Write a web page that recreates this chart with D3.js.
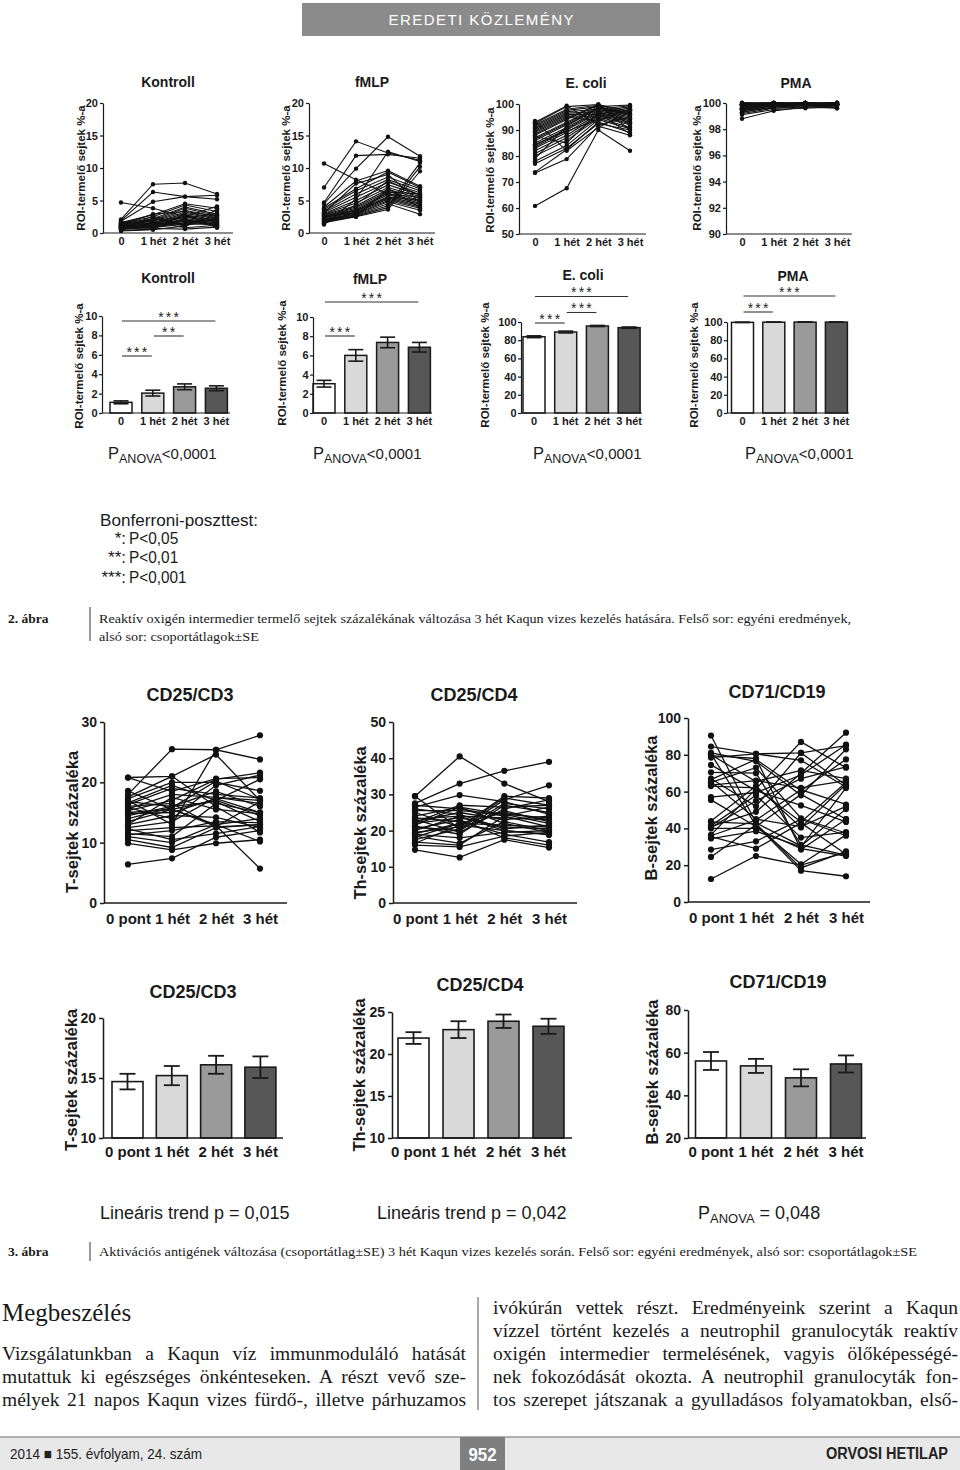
<!DOCTYPE html>
<html><head><meta charset="utf-8">
<script src="https://cdn.jsdelivr.net/npm/d3@7"></script>
<style>body{margin:0;background:#fff}svg{display:block}</style>
</head><body><script>
// ---------------- DATA ----------------
const weeks = ["0", "1 hét", "2 hét", "3 hét"];
const weeksPont = ["0 pont", "1 hét", "2 hét", "3 hét"];

// 2. ábra – individual values (each inner array = one time point, index = subject)
const kontrollInd = [
  [4.7,2.1,1.9,1.8,1.6,1.5,1.4,1.3,1.2,1.2,1.1,1.0,1.0,0.9,0.9,0.8,0.8,0.7,0.7,0.6,0.6,0.5,0.5,0.4,1.3,1.5,1.1,0.9,0.3,1.7],
  [3.8,7.5,6.3,4.8,2.8,2.5,2.2,2.0,1.9,1.8,1.6,1.5,1.4,1.3,1.2,1.1,1.0,0.9,0.8,2.6,2.3,1.7,1.0,0.6,2.9,1.5,1.2,0.7,0.5,2.0],
  [2.5,7.7,5.6,5.6,4.5,4.3,4.0,3.8,3.5,3.2,3.0,2.8,2.6,2.4,2.2,2.0,1.8,1.6,1.4,1.2,1.0,0.8,2.1,2.9,3.3,1.5,1.9,0.6,1.1,2.3],
  [4.1,6.0,5.2,5.8,3.8,3.3,2.9,2.7,2.5,2.3,2.2,2.0,1.9,1.8,1.7,1.6,1.5,1.4,1.3,2.8,3.6,1.2,1.0,0.8,2.6,2.1,1.1,0.9,2.4,3.0]
];
const fmlpInd = [
  [10.7,7.0,4.7,4.5,4.0,3.8,3.6,3.4,3.2,3.0,2.9,2.8,2.7,2.6,2.5,2.4,2.3,2.2,2.1,2.0,1.9,1.8,1.7,1.6,1.5,1.4,1.3,3.1,2.6,2.0],
  [8.2,14.1,11.9,9.9,8.0,6.8,6.5,6.0,5.5,5.0,4.6,4.2,4.0,3.8,3.6,3.5,3.4,3.2,3.0,2.9,2.8,2.7,2.6,2.5,3.3,4.4,5.2,7.6,3.1,2.5],
  [6.0,12.3,12.1,14.8,9.6,9.4,8.6,8.2,7.8,7.4,7.0,6.7,6.4,6.1,5.9,5.6,5.4,5.2,5.0,4.8,4.5,4.2,3.9,3.6,6.3,8.0,12.5,9.0,5.5,6.8],
  [5.5,11.2,11.5,11.8,7.2,7.0,6.8,6.5,6.2,5.9,5.6,5.3,5.0,4.8,4.6,4.4,4.2,4.0,3.8,3.5,2.9,10.8,10.2,9.5,6.0,5.8,11.0,4.7,5.1,3.9]
];
const ecoliInd = [
  [60.8,73.5,73.8,77,78,80,81,82,83,83.5,84,85,86,86.5,87,88,88.5,89,89.5,90,90.5,91,91.5,92,92.5,93,93.5,84.5,87.5,79],
  [67.6,78.8,82.5,83,84,86,87,88,89,90,90.5,91,92,92.5,93,94,94.5,95,95.5,96,96.5,97,97.5,98,99,99.3,82,89.5,85,91.5],
  [90,91.5,93,92.5,94,94.5,95,95.5,96,96.5,97,97.5,98,98.5,99,99.5,99.8,93.5,95,96,97,98,99,99.5,99.8,92,91,94,96.5,98.5],
  [82,88,89,90,90.5,91,92,92.5,93,93.5,94,94.5,95,95.5,96,96.5,97,97.5,98,98.5,99,99.3,99.6,90,92,95,97,98,88.5,96]
];
const pmaInd = [
  [98.8,99.1,99.2,99.3,99.4,99.5,99.5,99.6,99.6,99.7,99.7,99.8,99.8,99.8,99.9,99.9,99.9,100,100,100,99.3,99.6,99.7,99.9,100,99.5,99.8,99.9,100,99.4],
  [99.4,99.5,99.6,99.7,99.8,99.8,99.9,99.9,99.9,100,100,100,99.8,99.9,100,99.9,100,100,99.9,100,99.7,99.8,99.9,100,99.9,99.6,100,99.9,100,99.8],
  [99.7,99.6,99.8,99.9,99.9,99.9,100,100,99.9,100,99.9,100,99.9,100,99.8,100,99.9,100,100,99.9,99.8,99.9,100,99.9,100,99.7,99.9,100,100,99.9],
  [99.6,99.7,99.8,99.9,99.8,100,99.9,100,100,99.9,100,99.9,100,99.9,99.9,100,100,99.8,100,99.9,99.7,99.9,100,100,99.9,99.8,100,99.9,99.6,100]
];

// 2. ábra – group means ± SE
const kontrollMean = [1.1, 2.05, 2.7, 2.55];  const kontrollSE = [0.15, 0.3, 0.3, 0.25];
const fmlpMean = [3.05, 6.0, 7.35, 6.85];      const fmlpSE = [0.35, 0.6, 0.55, 0.5];
const ecoliMean = [83.8, 89.0, 95.6, 93.8];     const ecoliSE = [1.0, 1.0, 0.6, 0.7];
const pmaMean = [99.6, 99.8, 99.9, 99.9];       const pmaSE = [0.1, 0.05, 0.05, 0.05];

// Bonferroni significance brackets [from, to, label]
const kontrollSig = [[0,1,"***"],[1,2,"**"],[0,3,"***"]];
const fmlpSig = [[0,1,"***"],[0,3,"***"]];
const ecoliSig = [[0,1,"***"],[1,2,"***"],[0,3,"***"]];
const pmaSig = [[0,1,"***"],[0,3,"***"]];

// 3. ábra – individual values
const cd3Ind = [
  [6.4,9.9,10.5,11.0,11.5,12.0,12.5,13.0,13.5,14.0,14.5,15.0,15.3,15.6,16.0,16.3,16.6,17.0,17.3,17.6,18.0,18.6,20.8,20.8,12.3,14.8,15.8,11.3,13.0,16.8],
  [7.4,8.8,9.2,10.0,11.0,12.5,13.5,14.5,15.5,15.8,16.0,15.5,17.0,18.0,16.5,19.0,19.5,13.0,20.0,21.0,25.5,15.5,18.5,21.0,10.5,15.0,14.0,12.0,17.5,16.0],
  [10.9,9.9,12.5,13.0,16.5,12.8,17.5,14.2,17.0,20.2,16.8,13.0,20.5,17.5,12.6,18.0,17.0,25.4,20.0,16.0,25.4,12.7,20.6,24.6,11.5,17.3,19.5,13.5,15.5,18.5],
  [12.0,10.5,13.0,14.0,15.0,5.7,17.0,12.5,20.5,17.2,13.5,10.2,21.6,16.5,13.0,17.4,14.5,23.8,18.6,11.7,27.8,16.8,20.8,17.0,12.7,15.0,21.2,13.3,14.8,16.0]
];
const cd4Ind = [
  [14.7,16.0,16.8,17.5,18.2,19.0,19.5,20.0,21.0,21.5,22.0,22.5,23.0,23.5,24.0,25.0,26.0,26.5,27.0,27.5,29.5,29.5,18.5,20.5,22.2,16.5,25.5,19.2,21.2,23.2],
  [12.6,15.5,16.0,20.5,22.0,18.0,21.0,24.0,20.0,26.5,23.5,25.0,19.5,22.5,26.5,21.0,24.5,29.8,26.0,33.0,40.5,20.5,16.5,23.0,27.0,21.5,25.5,22.0,19.0,24.0],
  [17.5,18.5,24.0,28.5,25.0,19.5,29.0,20.0,27.5,24.5,21.0,23.0,26.0,19.0,22.0,29.5,20.5,28.0,24.0,36.5,33.0,25.5,22.5,18.0,26.5,20.0,24.5,21.5,27.0,23.5],
  [15.3,19.5,21.0,32.5,23.0,20.0,27.0,18.8,26.0,22.0,20.5,24.0,28.5,16.8,19.5,29.0,21.5,24.5,26.5,39.0,28.0,22.5,20.0,16.0,27.0,19.0,23.5,21.0,25.0,23.0]
];
const cd19Ind = [
  [12.5,24.5,28.5,34.5,35.5,36.0,36.5,40.0,41.0,41.5,43.5,44.0,55.5,57.0,63.5,65.0,65.5,66.5,67.0,70.5,74.5,78.5,79.5,80.0,80.5,81.0,84.5,90.5,63.0,40.5],
  [25.0,42.0,33.0,38.5,29.0,44.5,61.5,40.0,49.0,58.0,42.5,63.0,41.0,59.5,66.0,73.0,45.0,77.5,52.0,70.0,60.5,80.5,78.0,65.5,41.5,76.5,80.5,43.0,62.0,55.0],
  [20.0,17.0,45.0,30.0,43.0,61.0,87.0,29.0,70.0,35.0,18.5,40.5,58.5,69.0,62.0,45.5,41.0,60.5,81.0,31.0,52.5,77.0,28.5,71.5,20.5,58.0,81.0,30.5,43.5,67.0],
  [27.0,14.0,36.0,62.0,26.0,53.0,73.0,25.0,92.0,38.0,27.5,64.0,45.0,85.5,66.0,37.5,52.0,77.5,63.5,25.5,43.5,62.5,45.0,67.0,36.5,83.0,85.0,50.5,65.0,73.5]
];

// 3. ábra – group means ± SE
const cd3Mean = [14.7, 15.2, 16.1, 15.9];   const cd3SE = [0.65, 0.8, 0.75, 0.9];
const cd4Mean = [21.9, 22.9, 23.9, 23.3];   const cd4SE = [0.7, 1.0, 0.8, 0.9];
const cd19Mean = [56.1, 53.8, 48.2, 54.7];  const cd19SE = [4.2, 3.3, 4.0, 4.0];

// ---------------- STYLE ----------------
const SANS = "'Liberation Sans', Arial, Helvetica, sans-serif";
const SERIF = "'Liberation Serif', 'Times New Roman', serif";
const INK = "#1a1a1a";
const barFills = ["#ffffff", "#d9d9d9", "#9a9a9a", "#575757"];

const svg = d3.select("body").append("svg").attr("width", 960).attr("height", 1470);

function styleAxis(ax, o, fs) {
  ax.select(".domain").attr("stroke", INK).attr("stroke-width", o.aw);
  ax.selectAll(".tick line").attr("stroke", INK).attr("stroke-width", o.aw);
  ax.selectAll("text").attr("font-family", SANS).attr("font-size", fs)
    .attr("font-weight", "bold").attr("fill", INK);
}

function yLabel(g, o) {
  g.append("text").attr("transform", `translate(${o.lx},${o.ly}) rotate(-90)`)
    .attr("text-anchor", "middle").attr("font-family", SANS).attr("font-size", o.lfs)
    .attr("font-weight", "bold").attr("fill", INK).text(o.label);
}
function title(g, o) {
  g.append("text").attr("x", o.tx).attr("y", o.ty).attr("text-anchor", "middle")
    .attr("font-family", SANS).attr("font-size", o.tfs).attr("font-weight", "bold")
    .attr("fill", INK).text(o.title);
}

function indPanel(o) {
  const g = svg.append("g");
  const x = d3.scalePoint().domain(o.cats).range(o.xr);
  const y = d3.scaleLinear().domain(o.dom).range([o.yb, o.yt]);
  const ax = g.append("g").attr("transform", `translate(${o.ax},0)`)
    .call(d3.axisLeft(y).tickValues(o.ticks).tickSize(o.tk).tickSizeOuter(0).tickPadding(o.tp).tickFormat(d3.format("d")));
  styleAxis(ax, o, o.yfs);
  const xa = g.append("g").attr("transform", `translate(0,${o.yb})`)
    .call(d3.axisBottom(x).tickSize(0).tickPadding(o.xp));
  xa.select(".domain").remove();
  styleAxis(xa, o, o.xfs);
  g.append("line").attr("x1", o.ax).attr("x2", o.xEnd).attr("y1", o.yb).attr("y2", o.yb)
    .attr("stroke", INK).attr("stroke-width", o.aw);
  const n = o.data[0].length;
  const subjects = d3.range(n).map(i => o.cats.map((c, j) => ({c, v: o.data[j][i]})));
  const line = d3.line().x(d => x(d.c)).y(d => y(d.v));
  g.selectAll("path.subj").data(subjects).join("path").attr("class", "subj")
    .attr("d", line).attr("fill", "none").attr("stroke", "#111").attr("stroke-width", o.lw);
  g.selectAll("circle").data(subjects.flat()).join("circle")
    .attr("cx", d => x(d.c)).attr("cy", d => y(d.v)).attr("r", o.r).attr("fill", "#111");
  yLabel(g, o); title(g, o);
}

function barPanel(o) {
  const g = svg.append("g");
  const n = o.cats.length, p = 1 - o.w / o.step;
  const x = d3.scaleBand().domain(o.cats)
    .range([o.c0 - o.step / 2, o.c0 - o.step / 2 + n * o.step]).paddingInner(p).paddingOuter(p / 2);
  const y = d3.scaleLinear().domain(o.dom).range([o.yb, o.yt]);
  const rows = o.cats.map((c, i) => ({c, m: o.mean[i], se: o.se[i], i}));
  g.selectAll("rect").data(rows).join("rect")
    .attr("x", d => x(d.c)).attr("width", x.bandwidth())
    .attr("y", d => y(d.m)).attr("height", d => o.yb - y(d.m))
    .attr("fill", d => barFills[d.i]).attr("stroke", INK).attr("stroke-width", o.bw);
  const cx = d => x(d.c) + x.bandwidth() / 2;
  const eb = g.append("g").attr("stroke", INK).attr("stroke-width", o.ew);
  eb.selectAll("line.v").data(rows).join("line").attr("class", "v")
    .attr("x1", cx).attr("x2", cx).attr("y1", d => y(d.m - d.se)).attr("y2", d => y(d.m + d.se));
  eb.selectAll("line.t").data(rows).join("line").attr("class", "t")
    .attr("x1", d => cx(d) - o.cap / 2).attr("x2", d => cx(d) + o.cap / 2)
    .attr("y1", d => y(d.m + d.se)).attr("y2", d => y(d.m + d.se));
  eb.selectAll("line.b").data(rows).join("line").attr("class", "b")
    .attr("x1", d => cx(d) - o.cap / 2).attr("x2", d => cx(d) + o.cap / 2)
    .attr("y1", d => y(d.m - d.se)).attr("y2", d => y(d.m - d.se));
  const ax = g.append("g").attr("transform", `translate(${o.ax},0)`)
    .call(d3.axisLeft(y).tickValues(o.ticks).tickSize(o.tk).tickSizeOuter(0).tickPadding(o.tp).tickFormat(d3.format("d")));
  styleAxis(ax, o, o.yfs);
  const xa = g.append("g").attr("transform", `translate(0,${o.yb})`)
    .call(d3.axisBottom(x).tickSize(0).tickPadding(o.xp));
  xa.select(".domain").remove();
  styleAxis(xa, o, o.xfs);
  g.append("line").attr("x1", o.ax).attr("x2", o.xEnd).attr("y1", o.yb).attr("y2", o.yb)
    .attr("stroke", INK).attr("stroke-width", o.aw);
  if (o.sig) {
    o.sig.forEach((s, k) => {
      const x1 = x(o.cats[s[0]]) + x.bandwidth() / 2 + 1, x2 = x(o.cats[s[1]]) + x.bandwidth() / 2 - 1;
      const ly = o.sigY[k];
      g.append("line").attr("x1", x1).attr("x2", x2).attr("y1", ly).attr("y2", ly)
        .attr("stroke", "#333").attr("stroke-width", 1.1);
      g.append("text").attr("x", (x1 + x2) / 2 + 1).attr("y", ly + 0.8).attr("text-anchor", "middle")
        .attr("font-family", SANS).attr("font-size", 14).attr("letter-spacing", 2.2)
        .attr("fill", "#222").text(s[2]);
    });
  }
  yLabel(g, o); title(g, o);
}

function panova(x, y, rest, s1, s2, s3) {
  const t = svg.append("text").attr("x", x).attr("y", y).attr("font-family", SANS).attr("fill", INK);
  t.append("tspan").attr("font-size", s1).text("P");
  t.append("tspan").attr("font-size", s2).attr("dy", 4).text("ANOVA");
  t.append("tspan").attr("font-size", s3).attr("dy", -4).text(rest);
}

// ---------------- HEADER ----------------
svg.append("rect").attr("x", 302).attr("y", 3).attr("width", 358).attr("height", 33).attr("fill", "#8b8b8b");
svg.append("text").attr("x", 481).attr("y", 25).attr("text-anchor", "middle").attr("fill", "#fff")
  .attr("font-family", SANS).attr("font-size", 15).attr("textLength", 185).attr("lengthAdjust", "spacing")
  .text("EREDETI KÖZLEMÉNY");

// ---------------- FIG 2 – TOP ROW ----------------
const roiLabel = "ROI-termelő sejtek %-a";
const topCommon = {cats: weeks, tk: 3, tp: 2, xp: 4.5, aw: 1.2, yfs: 11, xfs: 11, lw: 1.1, r: 2.2, lfs: 11.5, tfs: 14, label: roiLabel};
indPanel({...topCommon, data: kontrollInd, ax: 103, xr: [121, 217], xEnd: 233, yb: 233, yt: 103, dom: [0, 20], ticks: [0,5,10,15,20], title: "Kontroll", tx: 168, ty: 87, lx: 85, ly: 168});
indPanel({...topCommon, data: fmlpInd, ax: 309, xr: [324, 420], xEnd: 435, yb: 233, yt: 103, dom: [0, 20], ticks: [0,5,10,15,20], title: "fMLP", tx: 372, ty: 87, lx: 290, ly: 168});
indPanel({...topCommon, data: ecoliInd, ax: 519, xr: [535, 630], xEnd: 646, yb: 234, yt: 104, dom: [50, 100], ticks: [50,60,70,80,90,100], title: "E. coli", tx: 586, ty: 88, lx: 494, ly: 170});
indPanel({...topCommon, data: pmaInd, ax: 726, xr: [742, 837], xEnd: 852, yb: 234, yt: 103, dom: [90, 100], ticks: [90,92,94,96,98,100], title: "PMA", tx: 796, ty: 88, lx: 701, ly: 168});

// ---------------- FIG 2 – BAR ROW ----------------
const barCommon = {cats: weeks, tk: 3, tp: 1.5, xp: 4.5, aw: 1.2, yfs: 11, xfs: 11, lfs: 11.5, tfs: 14, w: 22, bw: 1.5, ew: 1.6, cap: 15, yb: 413, label: roiLabel};
barPanel({...barCommon, mean: kontrollMean, se: kontrollSE, ax: 102, c0: 121, step: 31.8, xEnd: 230, yt: 316, dom: [0, 10], ticks: [0,2,4,6,8,10], title: "Kontroll", tx: 168, ty: 283, lx: 83, ly: 366, sig: kontrollSig, sigY: [356, 336, 321]});
barPanel({...barCommon, mean: fmlpMean, se: fmlpSE, ax: 313, c0: 324, step: 31.8, xEnd: 432, yt: 317, dom: [0, 10], ticks: [0,2,4,6,8,10], title: "fMLP", tx: 370, ty: 284, lx: 286, ly: 363, sig: fmlpSig, sigY: [336, 302]});
barPanel({...barCommon, mean: ecoliMean, se: ecoliSE, ax: 521, c0: 534, step: 31.7, xEnd: 642, yt: 322, dom: [0, 100], ticks: [0,20,40,60,80,100], title: "E. coli", tx: 583, ty: 280, lx: 489, ly: 365, sig: ecoliSig, sigY: [323, 312.5, 296.5]});
barPanel({...barCommon, mean: pmaMean, se: pmaSE, ax: 727, c0: 742.5, step: 31.3, xEnd: 849, yt: 322, dom: [0, 100], ticks: [0,20,40,60,80,100], title: "PMA", tx: 793, ty: 281, lx: 698, ly: 365, sig: pmaSig, sigY: [312, 296]});

panova(108, 459, "<0,0001", 16.5, 12.5, 15);
panova(313, 459, "<0,0001", 16.5, 12.5, 15);
panova(533, 459, "<0,0001", 16.5, 12.5, 15);
panova(745, 459, "<0,0001", 16.5, 12.5, 15);

// Bonferroni legend
const bonf = svg.append("g").attr("font-family", SANS).attr("font-size", 17).attr("fill", INK);
bonf.append("text").attr("x", 100).attr("y", 526).attr("textLength", 158).attr("lengthAdjust", "spacingAndGlyphs").text("Bonferroni-poszttest:");
[["*:", "P<0,05", 544], ["**:", "P<0,01", 563], ["***:", "P<0,001", 583]].forEach(r => {
  bonf.append("text").attr("x", 126).attr("y", r[2]).attr("text-anchor", "end").text(r[0]);
  bonf.append("text").attr("x", 129).attr("y", r[2]).attr("textLength", r[1].length * 8.2).attr("lengthAdjust", "spacingAndGlyphs").text(r[1]);
});

// Caption 2
const cap = svg.append("g").attr("font-family", SERIF).attr("fill", INK);
cap.append("text").attr("x", 8).attr("y", 623).attr("font-size", 13.5).attr("font-weight", "bold").text("2. ábra");
cap.append("line").attr("x1", 90).attr("x2", 90).attr("y1", 607).attr("y2", 641).attr("stroke", "#333").attr("stroke-width", 1);
cap.append("text").attr("x", 99).attr("y", 623).attr("font-size", 13.5).attr("textLength", 752).attr("lengthAdjust", "spacingAndGlyphs")
  .text("Reaktív oxigén intermedier termelő sejtek százalékának változása 3 hét Kaqun vizes kezelés hatására. Felső sor: egyéni eredmények,");
cap.append("text").attr("x", 99).attr("y", 641).attr("font-size", 13.5).attr("textLength", 160).attr("lengthAdjust", "spacingAndGlyphs")
  .text("alsó sor: csoportátlagok±SE");

// ---------------- FIG 3 – INDIVIDUAL ----------------
const f3Common = {cats: weeksPont, tk: 4, tp: 3, xp: 10, aw: 1.5, yfs: 14, xfs: 15, lw: 1.3, r: 3.1, lfs: 16.5, tfs: 18};
indPanel({...f3Common, data: cd3Ind, ax: 104, xr: [128, 260], xEnd: 287, yb: 903, yt: 722, dom: [0, 30], ticks: [0,10,20,30], title: "CD25/CD3", tx: 190, ty: 701, lx: 78, ly: 822, label: "T-sejtek százaléka"});
indPanel({...f3Common, data: cd4Ind, ax: 393, xr: [415, 549], xEnd: 577, yb: 903, yt: 722, dom: [0, 50], ticks: [0,10,20,30,40,50], title: "CD25/CD4", tx: 474, ty: 701, lx: 366, ly: 823, label: "Th-sejtek százaléka"});
indPanel({...f3Common, data: cd19Ind, ax: 688, xr: [711, 846], xEnd: 870, yb: 902, yt: 718, dom: [0, 100], ticks: [0,20,40,60,80,100], title: "CD71/CD19", tx: 777, ty: 698, lx: 657, ly: 808, label: "B-sejtek százaléka"});

// ---------------- FIG 3 – BARS ----------------
const f3Bar = {cats: weeksPont, tk: 4, tp: 3, xp: 8, aw: 1.5, yfs: 14, xfs: 15, lfs: 16.5, tfs: 18, w: 31, bw: 1.6, ew: 1.8, cap: 16, yb: 1138};
barPanel({...f3Bar, mean: cd3Mean, se: cd3SE, ax: 103, c0: 127.5, step: 44.3, xEnd: 283, yt: 1018, dom: [10, 20], ticks: [10,15,20], title: "CD25/CD3", tx: 193, ty: 998, lx: 77, ly: 1080, label: "T-sejtek százaléka"});
barPanel({...f3Bar, mean: cd4Mean, se: cd4SE, ax: 392, c0: 413.5, step: 45, xEnd: 572, yt: 1012, dom: [10, 25], ticks: [10,15,20,25], title: "CD25/CD4", tx: 480, ty: 991, lx: 365, ly: 1075, label: "Th-sejtek százaléka"});
barPanel({...f3Bar, mean: cd19Mean, se: cd19SE, ax: 688, c0: 711, step: 45, xEnd: 866, yt: 1010, dom: [20, 80], ticks: [20,40,60,80], title: "CD71/CD19", tx: 778, ty: 988, lx: 658, ly: 1072, label: "B-sejtek százaléka"});

svg.append("text").attr("x", 100).attr("y", 1219).attr("font-family", SANS).attr("font-size", 18).attr("fill", INK).text("Lineáris trend p = 0,015");
svg.append("text").attr("x", 377).attr("y", 1219).attr("font-family", SANS).attr("font-size", 18).attr("fill", INK).text("Lineáris trend p = 0,042");
panova(698, 1219, " = 0,048", 18, 13, 18);

// Caption 3
cap.append("text").attr("x", 8).attr("y", 1256).attr("font-size", 13.5).attr("font-weight", "bold").text("3. ábra");
cap.append("line").attr("x1", 90).attr("x2", 90).attr("y1", 1242).attr("y2", 1261).attr("stroke", "#333").attr("stroke-width", 1);
cap.append("text").attr("x", 99).attr("y", 1256).attr("font-size", 13.5).attr("textLength", 818).attr("lengthAdjust", "spacingAndGlyphs")
  .text("Aktivációs antigének változása (csoportátlag±SE) 3 hét Kaqun vizes kezelés során. Felső sor: egyéni eredmények, alsó sor: csoportátlagok±SE");

// ---------------- BODY TEXT ----------------
const leftLines = [
  "Vizsgálatunkban a Kaqun víz immunmoduláló hatását",
  "mutattuk ki egészséges önkénteseken. A részt vevő sze-",
  "mélyek 21 napos Kaqun vizes fürdő-, illetve párhuzamos"
];
const rightLines = [
  "ivókúrán vettek részt. Eredményeink szerint a Kaqun",
  "vízzel történt kezelés a neutrophil granulocyták reaktív",
  "oxigén intermedier termelésének, vagyis ölőképességé-",
  "nek fokozódását okozta. A neutrophil granulocyták fon-",
  "tos szerepet játszanak a gyulladásos folyamatokban, első-"
];
function justified(lines, x0, x1, y0, lh) {
  lines.forEach((s, i) => {
    const t = svg.append("text").attr("x", x0).attr("y", y0 + i * lh).attr("font-family", SERIF)
      .attr("font-size", 19.5).attr("fill", INK).text(s);
    const w = t.node().getComputedTextLength();
    const spaces = s.split(" ").length - 1;
    if (spaces > 0) t.style("word-spacing", ((x1 - x0 - w) / spaces) + "px");
  });
}
svg.append("text").attr("x", 2).attr("y", 1321).attr("font-family", SERIF).attr("font-size", 25).attr("fill", INK).text("Megbeszélés");
justified(leftLines, 2, 466, 1360, 23);
justified(rightLines, 493, 958, 1314, 23);
svg.append("line").attr("x1", 478).attr("x2", 478).attr("y1", 1297).attr("y2", 1410).attr("stroke", "#555").attr("stroke-width", 1);

// ---------------- FOOTER ----------------
svg.append("rect").attr("x", 0).attr("y", 1437).attr("width", 960).attr("height", 33).attr("fill", "#e8e8e8");
svg.append("line").attr("x1", 0).attr("x2", 960).attr("y1", 1437).attr("y2", 1437).attr("stroke", "#9a9a9a").attr("stroke-width", 1.5);
svg.append("rect").attr("x", 460).attr("y", 1437).attr("width", 45).attr("height", 33).attr("fill", "#7f7f7f");
svg.append("text").attr("x", 482.5).attr("y", 1461).attr("text-anchor", "middle").attr("fill", "#fff")
  .attr("font-family", SANS).attr("font-weight", "bold").attr("font-size", 19).attr("textLength", 28).attr("lengthAdjust", "spacingAndGlyphs").text("952");
svg.append("text").attr("x", 10).attr("y", 1459).attr("font-family", SANS).attr("font-size", 15).attr("fill", "#222")
  .attr("textLength", 192).attr("lengthAdjust", "spacingAndGlyphs").text("2014 ■ 155. évfolyam, 24. szám");
svg.append("text").attr("x", 948).attr("y", 1459).attr("text-anchor", "end").attr("font-family", SANS).attr("font-weight", "bold")
  .attr("font-size", 16).attr("fill", "#222").attr("textLength", 122).attr("lengthAdjust", "spacingAndGlyphs").text("ORVOSI HETILAP");
</script></body></html>
